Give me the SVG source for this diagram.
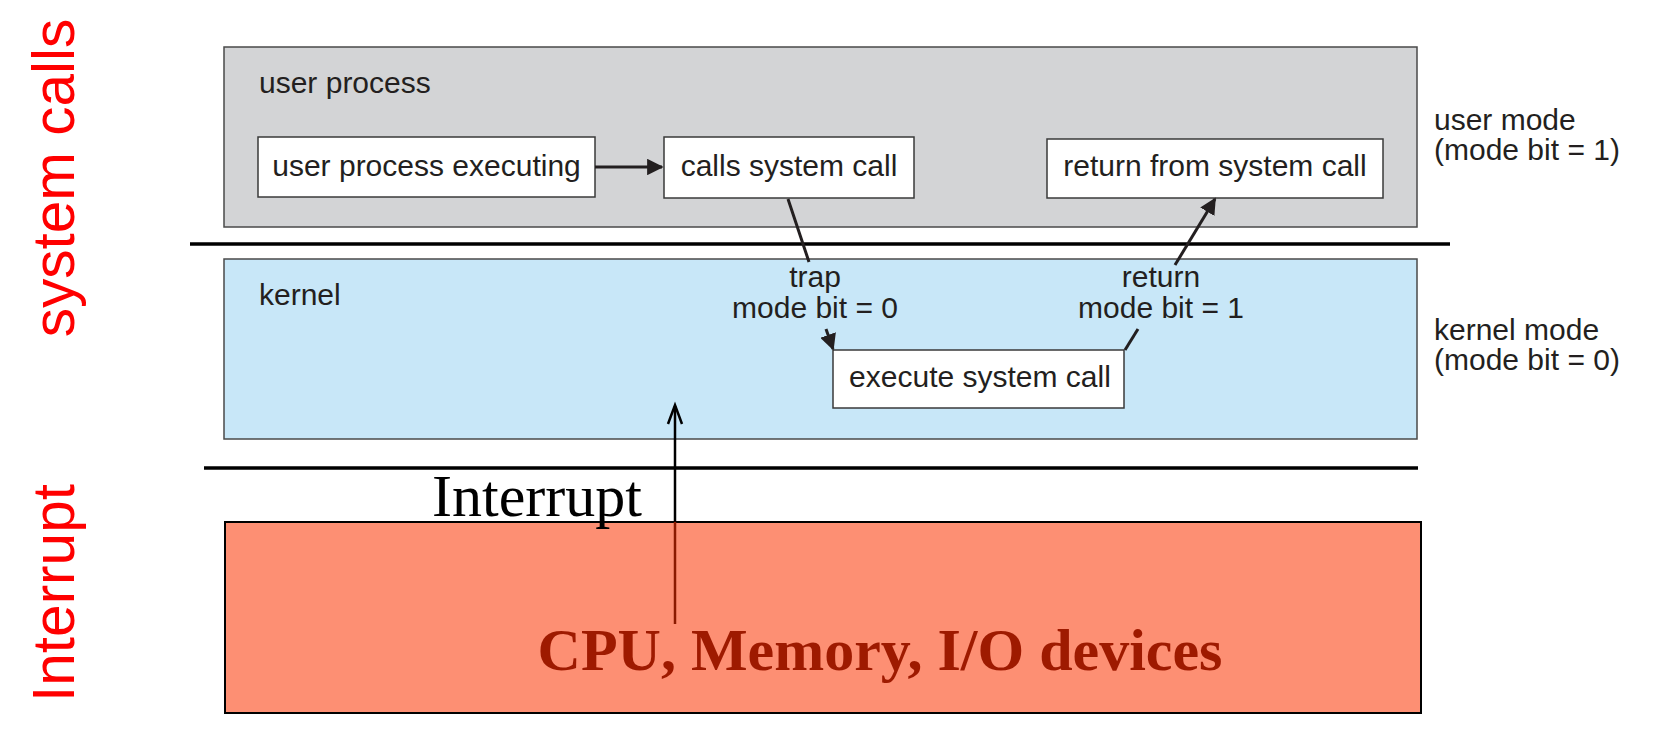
<svg xmlns="http://www.w3.org/2000/svg" width="1674" height="740" viewBox="0 0 1674 740">
<style>
.t{font-family:"Liberation Sans",Arial,sans-serif;font-size:30px;fill:#231f20}
.box{fill:#ffffff;stroke:#3a3a3a;stroke-width:1.5}
.con{stroke:#231f20;stroke-width:3;fill:none}
.side{font-family:"Liberation Sans",Arial,sans-serif;font-size:58.5px;fill:#ff0000}
.sep{stroke:#000;stroke-width:3.5}
</style>
<defs>
<marker id="ah" viewBox="0 0 10 10" refX="9" refY="5" markerWidth="5.5" markerHeight="5.5" orient="auto" markerUnits="strokeWidth">
<path d="M0,0 L10,5 L0,10 z" fill="#231f20"/>
</marker>
</defs>
<rect width="1674" height="740" fill="#ffffff"/>

<g id="side-labels">
<text class="side" transform="translate(74,178) rotate(-90)" text-anchor="middle">system calls</text>
<text class="side" transform="translate(74,593) rotate(-90)" text-anchor="middle">Interrupt</text>
</g>

<g id="user-process">
<rect x="224" y="47" width="1193" height="180" fill="#d3d4d6" stroke="#4a4a4a" stroke-width="1.5"/>
<text class="t" x="259" y="93">user process</text>
</g>

<g id="kernel">
<rect x="224" y="259" width="1193" height="180" fill="#c8e7f8" stroke="#4a4a4a" stroke-width="1.5"/>
<text class="t" x="259" y="305">kernel</text>
</g>

<g id="hardware">
<rect x="225" y="522" width="1196" height="191" fill="#fd8f73" stroke="#000" stroke-width="2"/>
<text x="880" y="670" text-anchor="middle" font-family="'Liberation Serif','Times New Roman',serif" font-weight="bold" font-size="60" fill="#9e1a00">CPU, Memory, I/O devices</text>
</g>

<g id="separators">
<line class="sep" x1="190" y1="244" x2="1450" y2="244"/>
<line class="sep" x1="204" y1="468" x2="1418" y2="468" stroke-width="4"/>
</g>

<g id="n-user-exec">
<rect class="box" x="258" y="137" width="337" height="60"/>
<text class="t" x="426.5" y="176" text-anchor="middle">user process executing</text>
</g>

<g id="n-calls">
<rect class="box" x="664" y="137" width="250" height="61"/>
<text class="t" x="789" y="176" text-anchor="middle">calls system call</text>
</g>

<g id="n-return">
<rect class="box" x="1047" y="139" width="336" height="59"/>
<text class="t" x="1215" y="176" text-anchor="middle">return from system call</text>
</g>

<g id="n-exec">
<rect class="box" x="833" y="350" width="291" height="58"/>
<text class="t" x="980" y="387" text-anchor="middle">execute system call</text>
</g>

<g id="labels">
<text class="t" x="815" y="287" text-anchor="middle">trap</text>
<text class="t" x="815" y="318" text-anchor="middle">mode bit = 0</text>
<text class="t" x="1161" y="287" text-anchor="middle">return</text>
<text class="t" x="1161" y="318" text-anchor="middle">mode bit = 1</text>
<text class="t" x="1434" y="130">user mode</text>
<text class="t" x="1434" y="160">(mode bit = 1)</text>
<text class="t" x="1434" y="340">kernel mode</text>
<text class="t" x="1434" y="370">(mode bit = 0)</text>
<text x="432" y="516" font-family="'Liberation Serif','Times New Roman',serif" font-size="60" fill="#000">Interrupt</text>
</g>

<g id="connectors">
<line class="con" x1="595" y1="167" x2="662" y2="167" marker-end="url(#ah)"/>
<line class="con" x1="788" y1="199" x2="809" y2="262"/>
<line class="con" x1="826" y1="329" x2="833" y2="349" marker-end="url(#ah)"/>
<line class="con" x1="1125" y1="350" x2="1138" y2="329"/>
<line class="con" x1="1175" y1="265" x2="1215" y2="199" marker-end="url(#ah)"/>
<line x1="675" y1="522" x2="675" y2="624" stroke="#8a1a00" stroke-width="2.5"/>
<line x1="675" y1="406" x2="675" y2="522" stroke="#000" stroke-width="2.5"/>
<path d="M668,424 L675,405 L682,424" fill="none" stroke="#000" stroke-width="2.5"/>
</g>
</svg>
